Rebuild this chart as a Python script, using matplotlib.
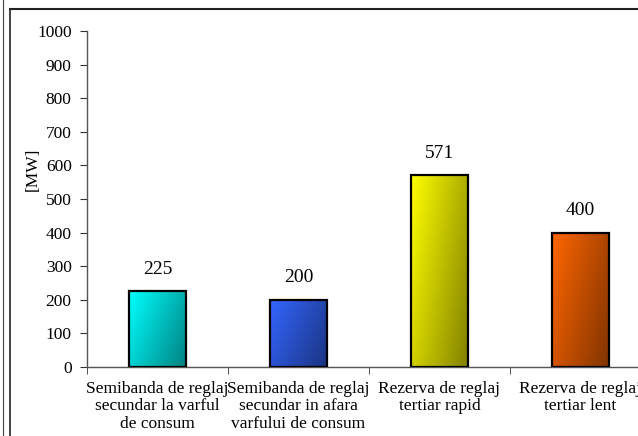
import numpy as np
import matplotlib
matplotlib.use("Agg")
import matplotlib.pyplot as plt
from matplotlib.lines import Line2D
from matplotlib.colors import LinearSegmentedColormap

categories = ["Semibanda de reglaj\nsecundar la varful\nde consum",
              "Semibanda de reglaj\nsecundar in afara\nvarfului de consum",
              "Rezerva de reglaj\ntertiar rapid",
              "Rezerva de reglaj\ntertiar lent"]
values = [225, 200, 571, 400]
light_colors = ["#00FFFF", "#3366FF", "#FFFF00", "#FF6600"]
dark_colors = ["#008080", "#1A3380", "#808000", "#803300"]
yticks = [0, 100, 200, 300, 400, 500, 600, 700, 800, 900, 1000]
ylabel = "[MW]"

plt.rcParams['font.family'] = ['Liberation Serif', 'DejaVu Serif']
W, H = 638, 436
fig = plt.figure(figsize=(W/100, H/100), dpi=100)
left, right, bottom, top = 87, 651, 436-367, 436-31
ax = fig.add_axes([left/W, bottom/H, (right-left)/W, (top-bottom)/H])

x = np.arange(len(values))
bars = ax.bar(x, values, width=0.41, facecolor='none', edgecolor='black',
              linewidth=1.6, zorder=3)

ny, nx = 200, 60
u = np.linspace(0, 1, nx)[None, :]
v = np.linspace(1, 0, ny)[:, None]
for b, lc, dc, val in zip(bars, light_colors, dark_colors, values):
    cmap = LinearSegmentedColormap.from_list("g", [lc, dc])
    x0 = b.get_x(); w = b.get_width(); h = b.get_height()
    t = 0.65 * u + 0.35 * (1 - v)
    im = ax.imshow(t, cmap=cmap, vmin=0, vmax=1, extent=[x0, x0 + w, 0, h],
                   origin='upper', aspect='auto', zorder=2, interpolation='bilinear')
    im.set_clip_path(b)
    ax.text(b.get_x() + w/2, val + 40, str(val), ha='center', va='bottom',
            fontsize=14, color='black')

ax.set_xlim(-0.5, len(values) - 0.5)
ax.set_ylim(0, 1000)
ax.set_yticks(yticks)
ax.set_yticklabels([str(t) for t in yticks], fontsize=12.5)
ax.set_xticks(x)
ax.set_xticklabels(categories, fontsize=12.5, linespacing=1.12)
ax.set_xticks(np.arange(len(values) + 1) - 0.5, minor=True)
ax.tick_params(axis='x', which='major', length=0, pad=10)
ax.tick_params(axis='x', which='minor', length=5, color='#333333', direction='out')
ax.tick_params(axis='y', length=5, color='#333333', direction='out', pad=6)
for s in ['top', 'right']:
    ax.spines[s].set_visible(False)
for s in ['left', 'bottom']:
    ax.spines[s].set_color('#555555')
    ax.spines[s].set_linewidth(1.0)

fig.text(33/W, 1 - 169/H, ylabel, rotation=90, ha='center', va='center', fontsize=12.5)

# frames
fig.add_artist(Line2D([9.5/W, 9.5/W], [0, 1 - 9/H], transform=fig.transFigure,
                      color='#222222', lw=1.2))
fig.add_artist(Line2D([9.5/W, 1], [1 - 9/H, 1 - 9/H], transform=fig.transFigure,
                      color='#222222', lw=1.5))
fig.add_artist(Line2D([3/W, 3/W], [0, 1], transform=fig.transFigure,
                      color='#444444', lw=0.8))

fig.savefig("out.png", dpi=100)
